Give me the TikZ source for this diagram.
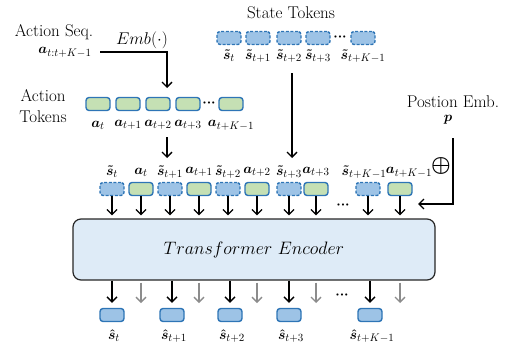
\RequirePackage{fix-cm}
\documentclass[tikz,border=0pt]{standalone}
\usepackage{amsmath,bm}
\usetikzlibrary{arrows.meta}
\DeclareMathSizes{14}{14}{11}{8}
\definecolor{sfill}{HTML}{9DC3E6}
\definecolor{afill}{HTML}{C5E0B4}
\definecolor{tokedge}{HTML}{2E75B6}
\definecolor{encfill}{HTML}{DEEBF7}
\definecolor{grayarrow}{HTML}{8C8C8C}
% tight bold ellipsis between tokens
\newcommand{\tokdots}{{\bm{\cdot}}{\bm{\cdot}}{\bm{\cdot}}}
\tikzset{
  tok/.style={minimum width=24pt, minimum height=13pt, rounded corners=3pt,
    line width=1.4pt, draw=tokedge, inner sep=0pt},
  stok/.style={tok, fill=sfill, dash pattern=on 3pt off 1.6pt},
  atok/.style={tok, fill=afill},
  otok/.style={tok, fill=sfill},
  txt/.style={font=\fontsize{17}{21}\selectfont, inner sep=0pt, align=center},
  lbl/.style={font=\fontsize{14}{14}\selectfont, inner sep=0pt},
  arr/.style={-{Straight Barb[length=5pt,width=10pt,line width=1.3pt]}, line width=1.3pt},
  garr/.style={arr, draw=grayarrow},
}
\begin{document}
\begin{tikzpicture}[x=1pt,y=-1pt]
\useasboundingbox (0,0) rectangle (506,348);

% action sequence and its embedding
\node[txt] (seq) at (54,32) {Action Seq.};
\node[lbl] (seqsym) at (65,52) {$\bm{a}_{t:t+K-1}$};
\node[font=\fontsize{17}{17}\selectfont, inner sep=0pt] (emb) at (142,40) {$Emb(\cdot)$};

% action tokens
\node[txt] (atitle) at (43,106) {Action\\Tokens};
\foreach \n/\x/\l in {p0/98/t, p1/128/t+1, p2/158/t+2, p3/188/t+3, pK/231/t+K-1}{
  \node[atok] (\n) at (\x,104) {};
  \node[lbl] (\n l) at (\x,125) {$\bm{a}_{\l}$};
}
\node[lbl] (pdots) at (209,103) {$\tokdots$};
\coordinate (embstart) at (100,52);
\draw[arr] (embstart) -| (167,88);

% state tokens
\node[txt] (stitle) at (291,13) {State Tokens};
\foreach \n/\x/\l in {q0/229/t, q1/258/t+1, q2/289/t+2, q3/318/t+3, qK/363/t+K-1}{
  \node[stok] (\n) at (\x,38) {};
  \node[lbl] (\n l) at (\x,56) {$\bm{\tilde{s}}_{\l}$};
}
\node[lbl] (qdots) at (340,37) {$\tokdots$};

% positional embedding
\node[txt] (ptitle) at (453,102) {Postion Emb.};
\node[lbl] (psym) at (448,120) {$\bm{p}$};
\node[font=\fontsize{22}{22}\selectfont, inner sep=0pt] (plus) at (441,166) {$\bm{\oplus}$};

% interleaved token sequence
\foreach \n/\x/\l/\s in {s0/112/t/stok, a0/141/t/atok, s1/170/t+1/stok, a1/199/t+1/atok,
    s2/228/t+2/stok, a2/257/t+2/atok, s3/289/t+3/stok, a3/316/t+3/atok,
    sK/368/t+K-1/stok, aK/400/t+K-1/atok}{
  \node[\s] (\n) at (\x,189) {};
}
\foreach \n/\l/\d in {s0/t/0, s1/t+1/0, s2/t+2/0, s3/t+3/0, sK/t+K-1/-4}{
  \node[lbl] (\n l) at ([xshift=\d pt, yshift=17pt]\n.center) {$\bm{\tilde{s}}_{\l}$};
}
\foreach \n/\l/\d in {a0/t/0, a1/t+1/0, a2/t+2/0, a3/t+3/0, aK/t+K-1/9}{
  \node[lbl] (\n l) at ([xshift=\d pt, yshift=17pt]\n.center) {$\bm{a}_{\l}$};
}
\node[lbl] (indots) at (343,205) {$\tokdots$};

% arrows into the token sequence
\coordinate (actin) at (167,137);
\coordinate (actout) at (167,158);
\draw[arr] (actin) -- (actout);
\coordinate (statein) at (292,73);
\coordinate (stateout) at (292,158);
\draw[arr] (statein) -- (stateout);
\coordinate (posin) at (453,138);
\coordinate (posout) at (418,204);
\draw[arr] (posin) |- (posout);

% encoder
\node[draw=black!85, line width=1.2pt, fill=encfill, rounded corners=8pt,
  minimum width=362pt, minimum height=61pt, inner sep=0pt,
  font=\fontsize{18}{18}\selectfont] (enc) at (254,249.5) {$Transformer\ Encoder$};

\foreach \n in {s0,a0,s1,a1,s2,a2,s3,a3,sK,aK}{
  \draw[arr, shorten >=3pt] (\n.south) -- (\n.south |- enc.north);
}

% predicted states
\foreach \n/\x/\l in {o0/112/t, o1/172/t+1, o2/230/t+2, o3/289/t+3, oK/370/t+K-1}{
  \node[otok] (\n) at (\x,315) {};
  \node[lbl] (\n l) at ([xshift=2pt]\x,336) {$\bm{\hat{s}}_{\l}$};
  \draw[arr, shorten >=5pt] (enc.south -| \n) -- (\n.north);
}
\foreach \x [count=\i] in {141,199,257,316,400}{
  \coordinate (g\i) at (\x,303);
  \draw[garr, shorten <=2pt] (enc.south -| g\i) -- (g\i);
}
\node[lbl] (outdots) at (342,295) {$\tokdots$};
\end{tikzpicture}
\end{document}
